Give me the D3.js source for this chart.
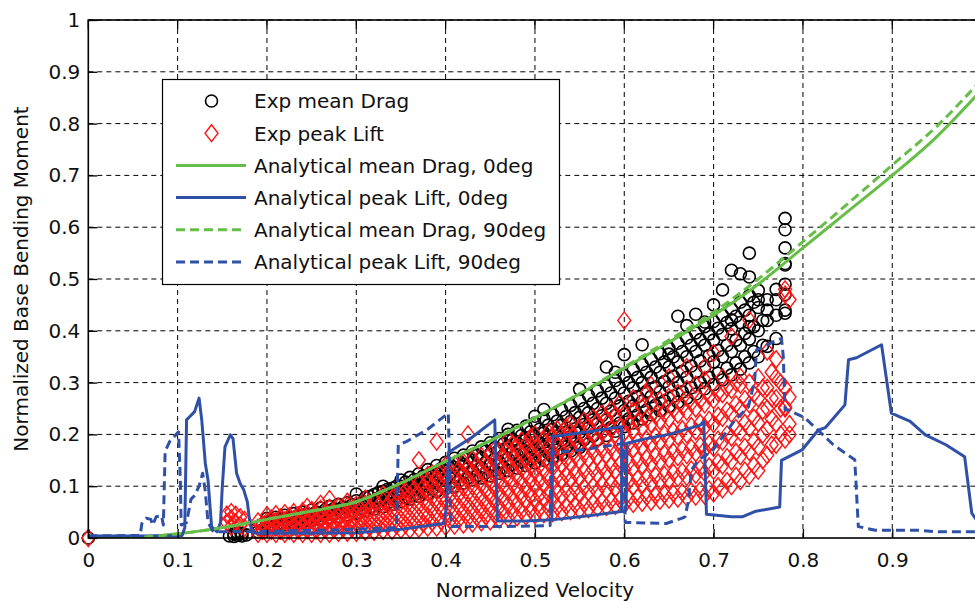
<!DOCTYPE html>
<html>
<head>
<meta charset="utf-8">
<script src="https://cdn.jsdelivr.net/npm/d3@7"></script>
<style>
  body { margin: 0; background: #fff; }
  svg { display: block; }
  text { font-family: "DejaVu Sans", sans-serif; fill: #111; }
</style>
</head>
<body>
<svg id="chart" width="975" height="601"></svg>
<script>
// ---- data ---------------------------------------------------------------
const xTicks = [0, 0.1, 0.2, 0.3, 0.4, 0.5, 0.6, 0.7, 0.8, 0.9];
const yTicks = [0, 0.1, 0.2, 0.3, 0.4, 0.5, 0.6, 0.7, 0.8, 0.9, 1];
const xTickLabels = ["0", "0.1", "0.2", "0.3", "0.4", "0.5", "0.6", "0.7", "0.8", "0.9"];
const yTickLabels = ["0", "0.1", "0.2", "0.3", "0.4", "0.5", "0.6", "0.7", "0.8", "0.9", "1"];

// analytical mean drag vs normalized velocity
const dragVel = [0, .05, .1, .15, .2, .25, .3, .35, .4, .45, .5, .55, .6, .65, .7, .75, .8, .85, .9, .95, 1];
const meanDrag0 = [0, .001, .008, .02, .036, .052, .07, .106, .148, .188, .232, .278, .328, .378, .43, .49, .56, .63, .70, .775, .865];
const meanDrag90 = [0, .001, .008, .02, .036, .052, .07, .106, .148, .188, .232, .279, .33, .382, .436, .5, .572, .645, .72, .795, .885];

// analytical peak lift, 0 deg (null = break in the line)
const peakLift0 = [
  [0,.004],[.06,.004],[.105,.005],[.108,.02],[.110,.228],[.114,.235],[.119,.244],[.124,.27],[.127,.228],
  [.131,.144],[.134,.112],[.138,.022],[.144,.012],[.148,.03],[.150,.099],[.153,.176],[.159,.199],[.162,.192],
  [.166,.125],[.170,.105],[.174,.093],[.178,.07],[.181,.028],[.184,.01],[.19,.009],[.25,.009],[.3,.01],
  [.35,.017],[.398,.028],[.401,.06],[.403,.165],[.43,.195],[.455,.228],[.458,.033],[.49,.033],[.519,.035],
  [.56,.043],[.597,.051],[.602,.054],[.603,.183],[.62,.19],[.65,.2],[.685,.218],[.689,.225],[.692,.046],
  [.72,.041],[.732,.041],[.746,.051],[.774,.06],[.776,.15],[.782,.155],[.799,.17],[.817,.208],[.825,.213],
  [.847,.257],[.851,.344],[.86,.348],[.888,.373],[.899,.241],[.92,.225],[.937,.199],[.96,.18],[.981,.157],
  [.989,.048],[1,.02],
  null,
  [.519,.035],[.52,.196],[.56,.205],[.597,.215],[.597,.051]
];

// analytical peak lift, 90 deg
const peakLift90 = [
  [0,.004],[.058,.005],[.060,.028],[.065,.038],[.070,.036],[.072,.025],[.076,.041],[.082,.043],[.084,.025],
  [.086,.167],[.091,.186],[.101,.205],[.103,.112],[.104,.025],[.110,.03],[.115,.075],[.119,.082],[.124,.1],
  [.128,.125],[.131,.09],[.134,.03],[.14,.012],[.2,.013],[.28,.016],[.345,.02],[.347,.18],[.356,.186],
  [.38,.21],[.403,.241],[.406,.022],[.46,.022],[.517,.024],[.518,.164],[.56,.172],[.6,.183],[.601,.03],
  [.647,.028],[.664,.038],[.668,.041],[.672,.073],[.675,.131],[.683,.151],[.698,.167],[.713,.202],[.724,.228],
  [.739,.253],[.746,.305],[.748,.363],[.756,.369],[.767,.379],[.776,.385],[.778,.35],[.78,.247],[.784,.247],
  [.802,.232],[.817,.208],[.834,.18],[.858,.151],[.862,.022],[.881,.015],[.93,.015],[.95,.012],[1,.012]
];

// experimental mean drag: [velocity, [moments...]]
const expMeanDrag = [
  [0,[0]],[.158,[.004]],[.163,[.003,.008]],[.167,[.005,.01]],[.172,[.004,.009]],[.177,[.006]],
  [.19,[.012,.022]],[.195,[.016,.026]],
  [.2,[.02,.03,.038]],[.205,[.024,.034]],[.21,[.022,.033,.04]],[.215,[.027,.038]],[.22,[.025,.036,.044]],
  [.225,[.03,.04]],[.23,[.028,.038,.047]],[.235,[.033,.044]],[.24,[.03,.042,.05]],[.245,[.036,.047]],
  [.25,[.033,.045,.054]],[.255,[.04,.05]],[.26,[.036,.048,.058]],[.265,[.043,.054]],[.27,[.04,.052,.061]],
  [.275,[.046,.057]],[.28,[.042,.055,.065]],[.285,[.05,.06]],[.29,[.045,.058,.068]],[.295,[.052,.064]],
  [.3,[.048,.06,.072,.085]],[.305,[.055,.066]],[.31,[.052,.065,.078]],[.315,[.058,.07,.08]],
  [.32,[.056,.07,.084]],[.325,[.064,.077,.088]],[.33,[.06,.075,.09,.1]],[.335,[.068,.082,.094]],
  [.34,[.065,.08,.096]],[.345,[.072,.088,.1]],[.35,[.07,.085,.1,.112]],[.355,[.078,.094,.108]],
  [.36,[.075,.09,.105,.117]],[.365,[.083,.1,.113]],[.37,[.08,.096,.112,.124]],[.375,[.088,.105,.12]],
  [.38,[.085,.1,.118,.132]],[.385,[.094,.112,.127]],[.39,[.09,.106,.124,.14]],[.395,[.1,.118,.134]],
  [.4,[.095,.112,.13,.146]],[.405,[.105,.124,.142]],[.41,[.1,.118,.136,.154]],[.415,[.11,.13,.148]],
  [.42,[.106,.124,.142,.16]],[.425,[.116,.135,.155]],[.43,[.112,.13,.15,.168]],[.435,[.12,.14,.16]],
  [.44,[.116,.136,.156,.176]],[.445,[.126,.146,.168]],[.45,[.12,.142,.162,.184]],[.455,[.13,.152,.174]],
  [.46,[.125,.147,.17,.192]],[.465,[.136,.158,.182]],[.47,[.13,.153,.176,.2,.21]],[.475,[.142,.165,.19]],
  [.48,[.135,.16,.184,.208]],[.485,[.148,.172,.198]],[.49,[.14,.165,.19,.216]],[.495,[.153,.178,.205]],
  [.5,[.145,.17,.196,.222,.235]],[.505,[.158,.184,.21]],[.51,[.15,.176,.203,.23,.248]],[.515,[.164,.19,.218]],
  [.52,[.156,.183,.21,.238]],[.525,[.17,.197,.226]],[.53,[.162,.19,.218,.247]],[.535,[.176,.204,.234]],
  [.54,[.168,.196,.225,.256]],[.545,[.182,.211,.242]],[.55,[.175,.204,.233,.265,.287]],[.555,[.19,.219,.25]],
  [.56,[.182,.212,.242,.275]],[.565,[.197,.228,.26]],[.57,[.19,.22,.25,.284]],[.575,[.205,.236,.27]],
  [.58,[.198,.228,.26,.294,.33]],[.585,[.213,.245,.28]],[.59,[.206,.237,.27,.304,.32]],[.595,[.222,.255,.29]],
  [.6,[.215,.246,.28,.314,.354]],[.605,[.23,.264,.3]],[.61,[.222,.255,.29,.325]],[.615,[.238,.273,.31]],
  [.62,[.23,.264,.3,.335,.373]],[.625,[.247,.283,.32]],[.63,[.238,.273,.31,.345]],[.635,[.256,.292,.33]],
  [.64,[.246,.282,.32,.356]],[.645,[.265,.302,.34]],[.65,[.254,.292,.33,.366,.355]],[.655,[.274,.312,.35]],
  [.66,[.262,.3,.34,.376,.428]],[.665,[.282,.322,.36]],[.67,[.27,.31,.35,.386,.41]],[.675,[.29,.332,.372]],
  [.68,[.278,.32,.36,.396,.432]],[.685,[.3,.342,.383]],[.69,[.288,.33,.372,.408,.417]],[.695,[.31,.352,.394]],
  [.7,[.296,.34,.382,.418,.45]],[.705,[.318,.362,.405]],[.71,[.305,.35,.393,.43,.479]],[.715,[.328,.372,.416]],
  [.72,[.315,.36,.404,.442,.517,.421]],[.725,[.338,.382,.428]],[.73,[.326,.372,.416,.455,.51]],
  [.735,[.35,.395,.44]],[.74,[.338,.384,.43,.468,.55,.504,.408]],[.745,[.36,.408,.455]],
  [.75,[.35,.4,.445,.478,.46]],[.755,[.372,.42]],[.76,[.37,.42,.44,.46]],[.77,[.385,.43,.46,.48]],
  [.78,[.44,.49,.53,.56,.595,.617,.47,.527,.434]]
];

// experimental peak lift: [velocity, [moments...]]
const expPeakLift = [
  [0,[0]],[.155,[.03,.045]],[.16,[.022,.038,.05]],[.165,[.03,.045]],[.17,[.025,.04]],[.175,[.035,.02]],
  [.19,[.008,.02,.032]],[.195,[.014,.026]],[.2,[.008,.02,.032,.044]],[.205,[.014,.026,.038]],
  [.21,[.008,.02,.032,.046]],[.215,[.014,.028,.04]],[.22,[.008,.02,.034,.048]],[.225,[.014,.028,.042]],
  [.23,[.008,.022,.036,.05]],[.235,[.015,.03,.044]],[.24,[.008,.022,.036,.052]],[.245,[.015,.03,.046,.06]],
  [.25,[.008,.022,.038,.054]],[.255,[.015,.03,.046]],[.26,[.008,.024,.04,.056,.066]],[.265,[.016,.032,.048]],
  [.27,[.008,.024,.04,.058,.075]],[.275,[.016,.032,.05]],[.28,[.01,.026,.042,.06]],[.285,[.018,.034,.052]],
  [.29,[.01,.026,.044,.062,.07]],[.295,[.018,.036,.054]],[.3,[.01,.028,.046,.064]],[.305,[.02,.038,.056]],
  [.31,[.012,.03,.048,.066,.076]],[.315,[.02,.04,.058]],[.32,[.012,.03,.05,.07]],[.325,[.022,.042,.062]],
  [.33,[.014,.032,.052,.072,.084]],[.335,[.024,.044,.064]],[.34,[.014,.034,.054,.076]],
  [.345,[.024,.046,.068,.088]],[.35,[.016,.036,.058,.08,.092]],[.355,[.026,.048,.07,.09]],
  [.36,[.016,.038,.06,.082,.1]],[.365,[.028,.05,.072,.094]],[.37,[.018,.04,.062,.084,.106,.15]],
  [.375,[.028,.05,.074,.098]],[.38,[.02,.042,.064,.088,.11,.122]],[.385,[.03,.054,.078,.1,.124]],
  [.39,[.02,.044,.068,.092,.116,.186]],[.395,[.032,.056,.08,.104,.128]],[.4,[.022,.046,.07,.094,.118,.14]],
  [.405,[.034,.058,.082,.106,.13]],[.41,[.024,.048,.072,.096,.12,.142]],[.415,[.036,.06,.084,.108,.132]],
  [.42,[.026,.05,.074,.098,.122,.146]],[.425,[.038,.062,.086,.11,.136,.2]],[.43,[.028,.052,.076,.1,.126,.152]],
  [.435,[.04,.064,.088,.114,.14]],[.44,[.03,.054,.078,.104,.13,.158]],[.445,[.042,.066,.092,.118,.144]],
  [.45,[.032,.056,.082,.108,.134,.162]],[.455,[.044,.07,.096,.122,.148,.17]],[.46,[.036,.06,.086,.112,.14,.168]],
  [.465,[.048,.074,.1,.126,.154]],[.47,[.038,.064,.09,.116,.144,.172,.19]],[.475,[.05,.076,.104,.13,.158,.182]],
  [.48,[.04,.066,.094,.12,.148,.176]],[.485,[.052,.08,.106,.134,.162,.188]],[.49,[.042,.07,.096,.124,.152,.18]],
  [.495,[.054,.082,.11,.138,.166,.194]],[.5,[.044,.072,.1,.128,.156,.184,.2]],[.505,[.056,.084,.112,.14,.17]],
  [.51,[.046,.074,.102,.13,.16,.19]],[.515,[.058,.086,.116,.146,.176,.204]],[.52,[.048,.076,.106,.136,.166,.196]],
  [.525,[.06,.09,.12,.15,.18,.21]],[.53,[.05,.08,.11,.14,.17,.2]],[.535,[.062,.092,.122,.152,.184,.214]],
  [.54,[.052,.082,.112,.142,.174,.206,.22]],[.545,[.064,.094,.126,.158,.19]],[.55,[.054,.084,.116,.148,.18,.212]],
  [.555,[.066,.098,.13,.162,.194,.226]],[.56,[.056,.088,.12,.152,.184,.216]],[.565,[.068,.1,.132,.166,.2,.232]],
  [.57,[.058,.09,.122,.156,.19,.224]],[.575,[.07,.104,.136,.17,.204,.24]],[.58,[.06,.092,.126,.16,.194,.23]],
  [.585,[.072,.106,.14,.174,.21,.247]],[.59,[.062,.096,.13,.164,.2,.236]],[.595,[.074,.108,.142,.178,.214,.26]],
  [.6,[.064,.098,.132,.168,.204,.24,.42]],[.605,[.076,.11,.146,.182,.22]],[.61,[.066,.1,.136,.172,.208,.246,.27]],
  [.615,[.078,.114,.15,.186,.224]],[.62,[.068,.104,.14,.176,.214,.252]],[.625,[.08,.116,.154,.19,.23,.28]],
  [.63,[.07,.106,.144,.182,.22,.26,.295]],[.635,[.082,.12,.158,.196,.236]],[.64,[.072,.11,.148,.186,.226,.266]],
  [.645,[.084,.122,.162,.2,.24]],[.65,[.074,.112,.152,.19,.23,.272,.31]],[.655,[.086,.126,.166,.206,.248]],
  [.66,[.076,.116,.156,.196,.238,.28]],[.665,[.088,.128,.17,.21,.254]],[.67,[.078,.118,.16,.2,.244,.288,.33]],
  [.675,[.09,.132,.174,.216,.26]],[.68,[.08,.122,.164,.206,.25,.296]],[.685,[.092,.134,.178,.222,.266]],
  [.69,[.082,.126,.17,.214,.258,.305,.33]],[.695,[.094,.138,.182,.228,.274]],[.7,[.086,.13,.174,.22,.266,.357]],
  [.705,[.1,.146,.19,.236,.28]],[.71,[.094,.14,.186,.232,.278,.31]],[.715,[.11,.156,.2,.246,.29]],
  [.72,[.1,.148,.194,.24,.286,.389]],[.725,[.12,.166,.212,.258,.3]],[.73,[.11,.158,.204,.25,.296,.311]],
  [.735,[.13,.176,.222,.268]],[.74,[.12,.166,.212,.258,.3,.421]],[.745,[.14,.186,.232,.278]],
  [.75,[.13,.176,.222,.27,.31]],[.755,[.15,.2,.246,.29]],[.76,[.16,.21,.25,.29,.36]],[.765,[.18,.23,.27,.32]],
  [.77,[.18,.22,.27,.31,.345]],[.775,[.2,.25,.3]],[.78,[.19,.25,.29,.47,.48,.253]],[.785,[.2,.22,.272,.46]]
];

const legendLabels = [
  "Exp mean Drag", "Exp peak Lift",
  "Analytical mean Drag, 0deg", "Analytical peak Lift, 0deg",
  "Analytical mean Drag, 90deg", "Analytical peak Lift, 90deg"
];

// ---- layout & styles ----------------------------------------------------
const plot = { left: 88.3, right: 981.6, top: 20, bottom: 538 };
const GREEN = "#66bd48", BLUE = "#2f50a6", RED = "#ff1414";
const DASH = "9,5";
const CIRCLE_W = 1.6, DIAMOND_W = 1.4;

const svg = d3.select("#chart");
const x = d3.scaleLinear().domain([0, 1]).range([plot.left, plot.right]);
const y = d3.scaleLinear().domain([0, 1]).range([plot.bottom, plot.top]);

svg.append("defs").append("clipPath").attr("id", "plotClip")
  .append("rect").attr("x", plot.left).attr("y", plot.top)
  .attr("width", plot.right - plot.left).attr("height", plot.bottom - plot.top);

// grid
const grid = svg.append("g").attr("stroke", "#000").attr("stroke-width", 1).attr("stroke-dasharray", "5,4");
grid.selectAll(".gx").data(xTicks.slice(1)).join("line")
  .attr("x1", d => x(d)).attr("x2", d => x(d)).attr("y1", plot.top).attr("y2", plot.bottom);
grid.selectAll(".gy").data(yTicks.slice(1)).join("line")
  .attr("y1", d => y(d)).attr("y2", d => y(d)).attr("x1", plot.left).attr("x2", plot.right);

// scatter: mean drag circles
const dragPts = expMeanDrag.flatMap(([v, ms]) => ms.map(m => [v, m]));
svg.append("g").selectAll("circle").data(dragPts).join("circle")
  .attr("cx", d => x(d[0])).attr("cy", d => y(d[1])).attr("r", 6)
  .attr("fill", "none").attr("stroke", "#000").attr("stroke-width", CIRCLE_W);

// scatter: peak lift diamonds
const diamond = (cx, cy) => `M${cx},${cy - 8.5}L${cx + 6.5},${cy}L${cx},${cy + 8.5}L${cx - 6.5},${cy}Z`;
const liftPts = expPeakLift.flatMap(([v, ms]) => ms.map(m => [v, m]));
svg.append("g").selectAll("path").data(liftPts).join("path")
  .attr("d", d => diamond(x(d[0]), y(d[1])))
  .attr("fill", "none").attr("stroke", RED).attr("stroke-width", DIAMOND_W);

// analytical curves
const lines = svg.append("g").attr("clip-path", "url(#plotClip)").attr("fill", "none")
  .attr("stroke-width", 3).attr("stroke-linejoin", "round");
const dragLine = d3.line().x((d, i) => x(dragVel[i])).y(d => y(d)).curve(d3.curveMonotoneX);
const liftLine = d3.line().defined(d => d != null).x(d => x(d[0])).y(d => y(d[1]));

lines.append("path").attr("d", dragLine(meanDrag0)).attr("stroke", GREEN);
lines.append("path").attr("d", liftLine(peakLift0)).attr("stroke", BLUE);
lines.append("path").attr("d", dragLine(meanDrag90)).attr("stroke", GREEN).attr("stroke-dasharray", DASH);
lines.append("path").attr("d", liftLine(peakLift90)).attr("stroke", BLUE).attr("stroke-dasharray", DASH);

// axes
const fontSize = 20;
const xAxis = d3.axisBottom(x).tickValues(xTicks).tickFormat((d, i) => xTickLabels[i])
  .tickSizeInner(-9).tickSizeOuter(0).tickPadding(15);
const yAxis = d3.axisLeft(y).tickValues(yTicks).tickFormat((d, i) => yTickLabels[i])
  .tickSizeInner(-9).tickSizeOuter(0).tickPadding(8);

const gx = svg.append("g").attr("transform", `translate(0,${plot.bottom})`).call(xAxis);
const gy = svg.append("g").attr("transform", `translate(${plot.left},0)`).call(yAxis);
[gx, gy].forEach(g => {
  g.select(".domain").remove();
  g.selectAll(".tick line").attr("stroke", "#000").attr("stroke-width", 1.3);
  g.selectAll(".tick text").attr("font-size", fontSize).attr("fill", "#111")
    .attr("font-family", '"DejaVu Sans", sans-serif');
});

// top ticks
svg.append("g").selectAll("line").data(xTicks).join("line")
  .attr("x1", d => x(d)).attr("x2", d => x(d)).attr("y1", plot.top).attr("y2", plot.top + 9)
  .attr("stroke", "#000").attr("stroke-width", 1.3);

// frame
svg.append("rect").attr("x", plot.left).attr("y", plot.top)
  .attr("width", plot.right - plot.left).attr("height", plot.bottom - plot.top)
  .attr("fill", "none").attr("stroke", "#000").attr("stroke-width", 1.6);

// axis titles
svg.append("text").attr("x", (plot.left + plot.right) / 2).attr("y", 597)
  .attr("text-anchor", "middle").attr("font-size", fontSize).text("Normalized Velocity");
svg.append("text").attr("transform", `translate(28,${(plot.top + plot.bottom) / 2}) rotate(-90)`)
  .attr("text-anchor", "middle").attr("font-size", fontSize).text("Normalized Base Bending Moment");

// legend
const lg = svg.append("g");
lg.append("rect").attr("x", 162.5).attr("y", 79.5).attr("width", 397).attr("height", 205)
  .attr("fill", "#fff").attr("stroke", "#000").attr("stroke-width", 1.2);
const rowY = i => 101 + i * 32.2;
legendLabels.forEach((label, i) => {
  const cy = rowY(i);
  if (i === 0) {
    lg.append("circle").attr("cx", 211.5).attr("cy", cy).attr("r", 6)
      .attr("fill", "none").attr("stroke", "#000").attr("stroke-width", CIRCLE_W);
  } else if (i === 1) {
    lg.append("path").attr("d", diamond(211.5, cy)).attr("fill", "none").attr("stroke", RED).attr("stroke-width", DIAMOND_W);
  } else {
    lg.append("line").attr("x1", 176).attr("x2", 246).attr("y1", cy).attr("y2", cy)
      .attr("stroke", i % 2 === 0 ? GREEN : BLUE).attr("stroke-width", 3)
      .attr("stroke-dasharray", i >= 4 ? DASH : null);
  }
  lg.append("text").attr("x", 254).attr("y", cy + 7.3).attr("font-size", fontSize).text(label);
});
</script>
</body>
</html>
